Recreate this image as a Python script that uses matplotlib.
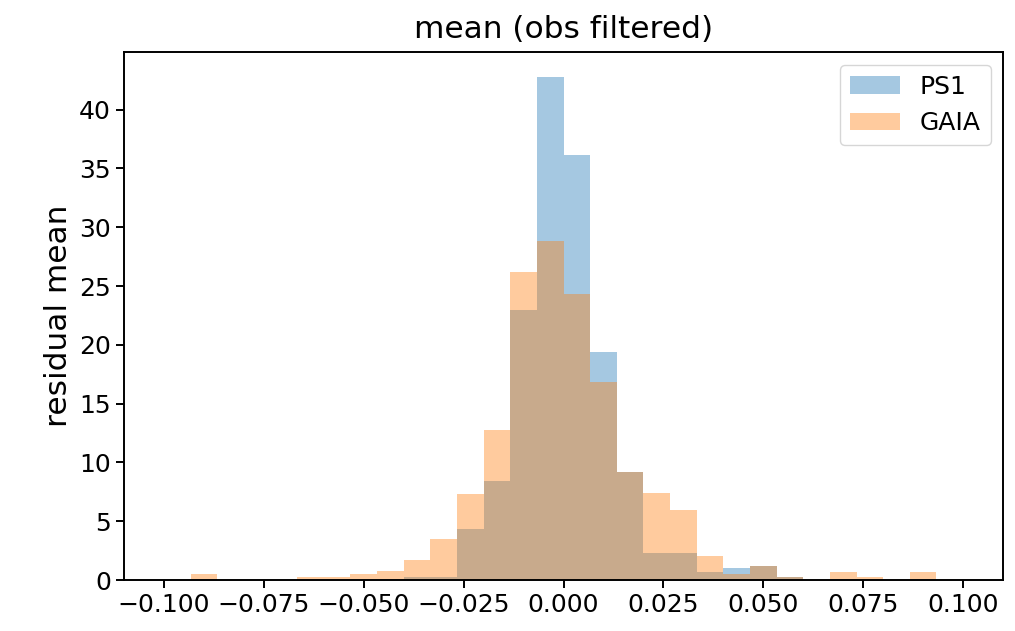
import numpy as np
import matplotlib
matplotlib.use("Agg")
import matplotlib.pyplot as plt

# histogram bin edges: 30 bins from -0.1 to 0.1
bin_lo = -0.1
bin_hi = 0.1
n_bins = 30

# density heights per bin
ps1_density = [0, 0, 0, 0, 0, 0, 0, 0, 0, 0.29,
               0.29, 4.37, 8.45, 22.96, 42.76, 36.1, 19.4, 9.15, 2.3, 2.3,
               0.72, 0.98, 1.18, 0.26, 0, 0, 0, 0, 0, 0]
gaia_density = [0, 0.49, 0, 0, 0, 0.25, 0.25, 0.5, 0.74, 1.67,
                3.45, 7.33, 12.73, 26.15, 28.85, 24.3, 16.87, 9.15, 7.39, 5.98,
                2.07, 0.49, 1.18, 0.26, 0, 0.72, 0.26, 0, 0.69, 0]

series_labels = ["PS1", "GAIA"]
title = "mean (obs filtered)"
ylabel = "residual mean"
xticks = [-0.100, -0.075, -0.050, -0.025, 0.000, 0.025, 0.050, 0.075, 0.100]

edges = np.linspace(bin_lo, bin_hi, n_bins + 1)
centers = 0.5 * (edges[:-1] + edges[1:])

fig = plt.figure(figsize=(10.15, 6.31), dpi=100)
ax = fig.add_axes([124 / 1015, 1 - 580 / 631, (1003 - 124) / 1015, (580 - 52) / 631])

ax.hist(centers, bins=edges, weights=ps1_density, alpha=0.4, color="C0", label=series_labels[0])
ax.hist(centers, bins=edges, weights=gaia_density, alpha=0.4, color="C1", label=series_labels[1])

ax.set_xticks(xticks)
ax.set_title(title, fontsize=22.5, pad=10)
ax.set_ylabel(ylabel, fontsize=22.5)
ax.tick_params(labelsize=18, length=6, width=1.4)
for s in ax.spines.values():
    s.set_linewidth(1.4)
ax.legend(fontsize=18, loc="upper right")

fig.savefig("out.png", dpi=100)
